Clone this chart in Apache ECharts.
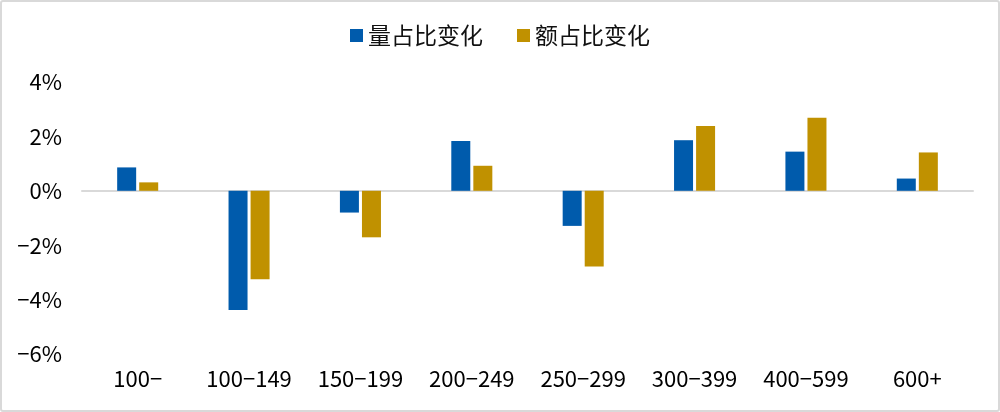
<!DOCTYPE html>
<html><head><meta charset="utf-8">
<script src="https://cdn.jsdelivr.net/npm/echarts@6/dist/echarts.min.js"></script>
<style>
html,body{margin:0;padding:0;background:#fff;}
#wrap{position:absolute;left:0;top:0;width:996px;height:408px;border:2px solid #d9d9d9;border-radius:3px;}
#c{width:996px;height:408px;}
</style></head>
<body><div id="wrap"><div id="c"></div></div>
<script>
const categories = ['100-','100-149','150-199','200-249','250-299','300-399','400-599','600+'];
const volumeShare = [0.86,-4.38,-0.80,1.83,-1.29,1.86,1.44,0.45];
const valueShare = [0.31,-3.25,-1.71,0.92,-2.78,2.38,2.69,1.41];
const seriesNames = ['量占比变化','额占比变化'];
const font = '"Noto Sans CJK SC", "Noto Sans", sans-serif';
const chart = echarts.init(document.getElementById('c'));
chart.setOption({
  animation:false,
  textStyle:{fontFamily:font},
  legend:{top:17,left:'center',itemWidth:13,itemHeight:13,itemGap:34,icon:'rect',
    textStyle:{fontSize:23,color:'#111',fontFamily:font}, data:seriesNames},
  grid:{left:80,right:25,top:80,bottom:56},
  xAxis:{type:'category',data:categories,
    axisLine:{onZero:true,lineStyle:{color:'#d9d9d9',width:2}},
    axisTick:{show:false},
    axisLabel:{fontSize:22,color:'#000',margin:14,fontFamily:font,
      formatter:v=>v.replace('-','\u2212')}},
  yAxis:{type:'value',min:-6,max:4,interval:2,
    axisLine:{show:false},axisTick:{show:false},splitLine:{show:false},
    axisLabel:{fontSize:22,color:'#000',margin:20,fontFamily:font,
      formatter:v=>(v<0?'\u2212'+Math.abs(v):v)+'%'}},
  series:[
    {name:seriesNames[0],type:'bar',data:volumeShare,barWidth:19,barGap:'16%',
      itemStyle:{color:'#005bac'}},
    {name:seriesNames[1],type:'bar',data:valueShare,barWidth:19,
      itemStyle:{color:'#c09100'}}
  ]
});
</script></body></html>
